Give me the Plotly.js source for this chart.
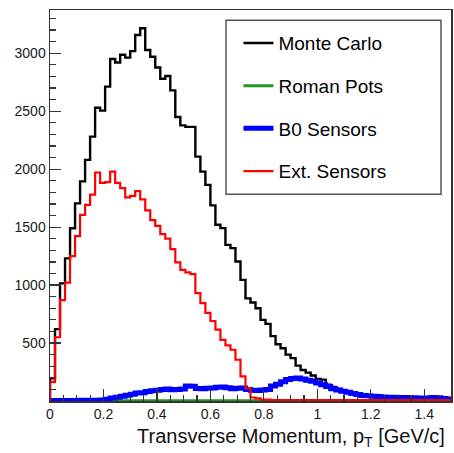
<!DOCTYPE html>
<html>
<head>
<meta charset="utf-8">
<script src="https://cdn.plot.ly/plotly-3.0.1.min.js"></script>
<style>html,body{margin:0;padding:0;background:#fff;}#chart{width:454px;height:453px;}</style>
</head>
<body>
<div id="chart"></div>
<script>
// Histogram binning: 80 bins from 0 to 1.5 GeV/c
const xMin = 0, xMax = 1.5, nBins = 80;

const mcCounts = [195,620,1015,1230,1490,1705,1895,2080,2281,2530,
  2505,2712,2950,2920,2987,2962,3018,3157,3215,3028,
  2970,2877,2780,2804,2680,2450,2378,2365,2365,2108,
  1979,1864,1688,1520,1491,1347,1319,1203,1045,885,
  850,800,700,665,560,490,455,400,370,305,
  268,245,220,190,184,140,122,105,92,80,
  70,60,53,48,44,41,38,36,34,33,
  32,31,29,27,25,27,31,29,24,20];

const rpCounts = [0,0,0,0,0,0,0,0,0,0,
  0,0,0,3,3,3,3,3,3,3,
  3,3,3,3,3,3,3,3,3,3,
  3,3,3,3,3,3,3,3,3,3,
  3,3,3,3,3,3,3,3,3,3,
  3,3,3,3,3,3,3,3,3,3,
  3,3,0,0,0,0,0,0,0,0,
  0,0,0,0,0,0,0,0,0,0];

const b0Counts = [5,5,4,5,5,5,6,5,6,7,
  8,15,25,32,40,50,58,68,72,82,
  88,92,100,104,98,100,103,130,128,108,
  106,110,112,118,120,115,106,110,112,100,
  92,90,95,100,130,145,165,185,195,198,
  190,180,170,155,140,125,105,95,85,75,
  65,55,48,45,40,38,35,33,32,30,
  30,30,28,25,22,25,30,28,22,18];

const extCounts = [165,550,870,1022,1250,1422,1606,1692,1780,1971,
  1882,1888,1979,1882,1836,1757,1770,1810,1740,1645,
  1560,1510,1440,1400,1310,1195,1132,1110,1095,930,
  845,760,690,615,528,480,442,356,212,110,
  30,22,12,11,8,8,8,7,7,7,
  7,7,7,7,7,7,7,7,7,7,
  7,7,7,7,7,7,7,7,7,7,
  7,7,7,7,7,7,7,7,7,7];

const seriesNames = ["Monte Carlo", "Roman Pots", "B0 Sensors", "Ext. Sensors"];
const seriesColors = ["#000000", "#1f991f", "#0000ff", "#ff0000"];
const seriesWidths = [2.4, 3, 5, 2.2];
const xTickVals = [0, 0.2, 0.4, 0.6, 0.8, 1, 1.2, 1.4];
const yTickVals = [500, 1000, 1500, 2000, 2500, 3000];

function stepTrace(counts, i) {
  const w = (xMax - xMin) / nBins;
  const xs = [xMin], ys = [0];
  for (let k = 0; k < counts.length; k++) { xs.push(xMin + k * w); ys.push(counts[k]); }
  xs.push(xMax); ys.push(counts[counts.length - 1]);
  xs.push(xMax); ys.push(0);
  return {
    type: 'scatter', mode: 'lines', x: xs, y: ys,
    line: {shape: 'hv', color: seriesColors[i], width: seriesWidths[i]},
    name: seriesNames[i], legendgroup: 'g' + i, hoverinfo: 'skip'
  };
}

const data = [mcCounts, rpCounts, b0Counts, extCounts].map(stepTrace);

const font = 'Liberation Sans, Arial, Helvetica, sans-serif';
const layout = {
  width: 454, height: 453,
  margin: {l: 50, r: 3, t: 10, b: 52},
  paper_bgcolor: '#fff', plot_bgcolor: '#fff',
  showlegend: true,
  legend: {
    x: 0.47, y: 0.964, xanchor: 'left', yanchor: 'top',
    bgcolor: 'rgba(0,0,0,0)', borderwidth: 0,
    traceorder: 'grouped', tracegroupgap: 15,
    font: {family: font, size: 19, color: '#000'}
  },
  xaxis: {
    range: [xMin, xMax], tickmode: 'array', tickvals: xTickVals,
    ticks: 'inside', ticklen: 12, tickwidth: 1.2, tickcolor: '#333',
    minor: {dtick: 0.05, tick0: 0, ticks: 'inside', ticklen: 6, tickwidth: 1.2, tickcolor: '#333'},
    showline: true, linecolor: '#333', linewidth: 1.5, mirror: true,
    showgrid: false, zeroline: false,
    tickfont: {family: font, size: 14, color: '#1a1a1a'}
  },
  yaxis: {
    range: [0, 3373], tickmode: 'array', tickvals: yTickVals,
    ticks: 'inside', ticklen: 11, tickwidth: 1.2, tickcolor: '#333',
    minor: {dtick: 100, tick0: 0, ticks: 'inside', ticklen: 5.5, tickwidth: 1.2, tickcolor: '#333'},
    showline: true, linecolor: '#333', linewidth: 1.5, mirror: true,
    showgrid: false, zeroline: false,
    tickfont: {family: font, size: 14, color: '#1a1a1a'}
  },
  shapes: [{
    type: 'rect', xref: 'paper', yref: 'paper',
    x0: 0.439, x1: 0.975, y0: 0.529, y1: 0.974,
    line: {color: '#555', width: 1.5}, fillcolor: 'rgba(0,0,0,0)', layer: 'above'
  }],
  annotations: [{
    xref: 'paper', yref: 'paper', x: 0.99, y: -0.094,
    xanchor: 'right', yanchor: 'middle', showarrow: false,
    text: 'Transverse Momentum, p<sub>T</sub> [GeV/c]',
    font: {family: font, size: 20, color: '#111'}
  }]
};

Plotly.newPlot('chart', data, layout, {staticPlot: true, displayModeBar: false});
</script>
</body>
</html>
